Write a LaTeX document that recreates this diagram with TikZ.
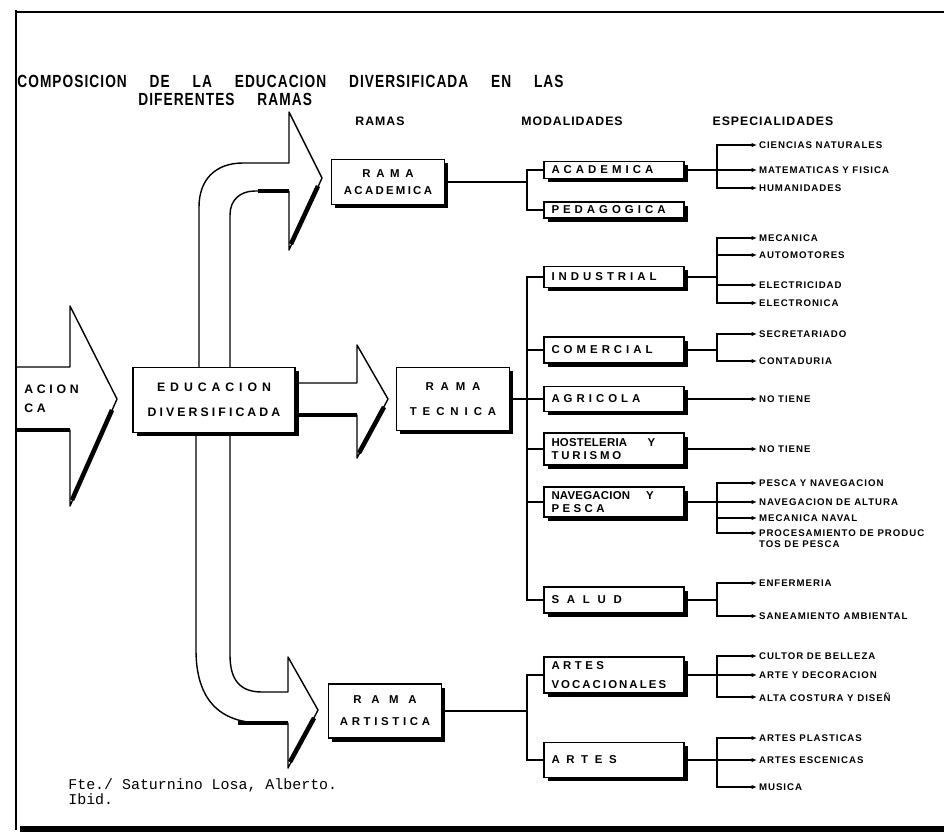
\documentclass[tikz,border=0pt]{standalone}
\usepackage{fontspec}
\setmainfont{Liberation Sans}
\newfontfamily\labfont{Liberation Sans}
\newfontfamily\titlefont[FakeStretch=0.78,LetterSpace=6]{Liberation Sans}
\newfontfamily\typefont{Liberation Mono}
\usepackage{tikz}
\usetikzlibrary{arrows.meta,shadows}

\newcommand\spc[2]{{\addfontfeature{LetterSpace=#1}#2}}

\begin{document}
\begin{tikzpicture}[x=0.02cm, y=-0.02cm,
		box/.style={draw, thick, fill=white, inner sep=0pt, align=center,
			drop shadow={shadow xshift=2pt, shadow yshift=-2pt, fill=black, opacity=1},
			font=\labfont\bfseries\fontsize{6.5}{9.5}\selectfont\addfontfeature{LetterSpace=35}},
		ramabox/.style={box, minimum width=2.26cm, minimum height=#1},
		modbox/.style={box, text width=2.5cm, inner xsep=0.15cm, align=left, minimum height=#1},
		head/.style={inner sep=1pt, font=\labfont\bfseries\fontsize{7}{8}\selectfont\addfontfeature{LetterSpace=8}},
		esp/.style={anchor=west, inner sep=1pt, font=\labfont\bfseries\fontsize{5.5}{6.5}\selectfont\addfontfeature{LetterSpace=10}},
		link/.style={semithick},
		tip/.style={semithick, -{Latex[length=3pt,width=2.4pt]}},
		bigarrow/.style={thick, fill=white, line join=round},
		heavy/.style={line width=2.6pt}]
		\useasboundingbox (0,0) rectangle (944,836);

		% titulo
		\node[anchor=west, inner sep=0pt, font=\titlefont\bfseries\fontsize{10}{11}\selectfont] (titulo) at (17,81)
			{\spaceskip=1.3em\relax COMPOSICION DE LA EDUCACION DIVERSIFICADA EN LAS};
		\node[anchor=west, inner sep=0pt, font=\titlefont\bfseries\fontsize{10}{11}\selectfont] (titulo2) at (138,99)
			{DIFERENTES\hspace{1.3em}RAMAS};
		\node[head] (h-ramas) at (380,121) {RAMAS};
		\node[head] (h-mod) at (572,121) {MODALIDADES};
		\node[head] (h-esp) at (773,121) {ESPECIALIDADES};

		% flechas grandes
		\draw[bigarrow] (16,367) -- (70,367) -- (70,306) -- (117,399) -- (70,506) -- (70,430) -- (16,430);
		\draw[heavy] (112,410) -- (72,500);
		\draw[heavy] (16,430) -- (70,430);
		\draw[bigarrow] (199,368) -- (199,207) .. controls (199,180) and (215,163) .. (243,163) -- (289,163) -- (289,112)
			-- (322,178) -- (289,250) -- (289,191) -- (255,191) .. controls (240,191) and (230,200) .. (230,215) -- (230,368);
		\draw[heavy] (318,186) -- (291,244);
		\draw[heavy] (258,191) -- (289,191);
		\draw[bigarrow] (295,383) -- (357,383) -- (357,345) -- (388,399) -- (357,458) -- (357,415) -- (295,415);
		\draw[heavy] (384,407) -- (359,453);
		\draw[heavy] (297,415) -- (357,415);
		\draw[bigarrow] (196,433) -- (196,650) .. controls (196,700) and (220,723) .. (262,723) -- (288,723) -- (288,768)
			-- (318,710) -- (288,657) -- (288,692) -- (262,692) .. controls (240,692) and (230,680) .. (230,655) -- (230,433);
		\draw[heavy] (314,718) -- (290,762);
		\draw[heavy] (238,723) -- (288,723);

		% marco
		\draw[line width=1.6pt] (16,10) -- (16,830);
		\draw[line width=0.9pt] (16,12) -- (944,12);
		\draw[line width=3pt] (20,829) -- (944,829);

		\node[anchor=west, inner sep=0pt, align=left, font=\labfont\bfseries\fontsize{7}{11}\selectfont] (entrada) at (24,399)
			{\spc{30}{ACION}\\\spc{30}{CA}};

		% educacion y ramas
		\node[box, minimum width=3.24cm, minimum height=1.3cm, font=\labfont\bfseries\fontsize{7}{9.5}\selectfont] (edu) at (214,400)
			{\spc{40}{EDUCACION}\\[4.5pt]\spc{25}{DIVERSIFICADA}};
		\node[ramabox=0.9cm] (rama-acad) at (388,182) {\spc{50}{RAMA}\\\spc{20}{ACADEMICA}};
		\node[ramabox=1.26cm] (rama-tec) at (453,399) {\spc{60}{RAMA}\\[5pt]\spc{52}{TECNICA}};
		\node[ramabox=1.08cm] (rama-art) at (385,711) {\spc{85}{RAMA}\\[3pt]\spc{32}{ARTISTICA}};

		% modalidades
		\node[modbox=0.34cm] (m-acad) at (614,170) {ACADEMICA};
		\node[modbox=0.32cm] (m-ped) at (614,210) {PEDAGOGICA};
		\node[modbox=0.42cm] (m-ind) at (614,277) {INDUSTRIAL};
		\node[modbox=0.52cm] (m-com) at (614,350) {COMERCIAL};
		\node[modbox=0.5cm] (m-agr) at (614,399) {AGRICOLA};
		\node[modbox=0.64cm] (m-host) at (614,449) {\spc{2}{HOSTELERIA}\hspace{1.8em}Y\\[-2.5pt]\spc{25}{TURISMO}};
		\node[modbox=0.6cm] (m-nav) at (614,502) {\spc{2}{NAVEGACION}\hspace{1.4em}Y\\[-2.5pt]\spc{30}{PESCA}};
		\node[modbox=0.52cm] (m-sal) at (614,600) {\spc{68}{SALUD}};
		\node[modbox=0.72cm] (m-voc) at (614,675) {\spc{30}{ARTES}\\[1pt]\spc{18}{VOCACIONALES}};
		\node[modbox=0.7cm] (m-artes) at (614,760) {\spc{58}{ARTES}};

		\coordinate (bus-acad) at (527,182);
		\coordinate (bus-tec) at (527,399);
		\coordinate (bus-art) at (527,711);
		\draw[link] (rama-acad.east) -- (bus-acad);
		\draw[link] (rama-tec.east) -- (bus-tec);
		\draw[link] (rama-art.east) -- (bus-art);
		\foreach \m in {m-acad,m-ped} \draw[link] (\m.west) -| (bus-acad);
		\foreach \m in {m-ind,m-com,m-agr,m-host,m-nav,m-sal} \draw[link] (\m.west) -| (bus-tec);
		\foreach \m in {m-voc,m-artes} \draw[link] (\m.west) -| (bus-art);

		% especialidades
		\node[esp] (e-cien) at (757,145) {CIENCIAS NATURALES};
		\node[esp] (e-mat) at (757,170) {MATEMATICAS Y FISICA};
		\node[esp] (e-hum) at (757,188) {HUMANIDADES};
		\node[esp] (e-mec) at (757,238) {MECANICA};
		\node[esp] (e-auto) at (757,255) {AUTOMOTORES};
		\node[esp] (e-elec) at (757,285) {ELECTRICIDAD};
		\node[esp] (e-elecn) at (757,303) {ELECTRONICA};
		\node[esp] (e-sec) at (757,334) {SECRETARIADO};
		\node[esp] (e-cont) at (757,361) {CONTADURIA};
		\node[esp] (e-agr) at (757,399) {NO TIENE};
		\node[esp] (e-host) at (757,449) {NO TIENE};
		\node[esp] (e-pesc) at (757,483) {PESCA Y NAVEGACION};
		\node[esp] (e-alt) at (757,502) {NAVEGACION DE ALTURA};
		\node[esp] (e-naval) at (757,518) {MECANICA NAVAL};
		\node[esp] (e-proc) at (757,533) {PROCESAMIENTO DE PRODUC};
		\node[esp, anchor=north west] (e-proc2) at (e-proc.south west) {TOS DE PESCA};
		\node[esp] (e-enf) at (757,583) {ENFERMERIA};
		\node[esp] (e-san) at (757,616) {SANEAMIENTO AMBIENTAL};
		\node[esp] (e-cult) at (757,656) {CULTOR DE BELLEZA};
		\node[esp] (e-deco) at (757,675) {ARTE Y DECORACION};
		\node[esp] (e-alta) at (757,697) {ALTA COSTURA Y DISEÑ};
		\node[esp] (e-plas) at (757,738) {ARTES PLASTICAS};
		\node[esp] (e-esc) at (757,760) {ARTES ESCENICAS};
		\node[esp] (e-mus) at (757,787) {MUSICA};

		\coordinate (sp-acad) at (717,170);
		\coordinate (sp-ind) at (717,277);
		\coordinate (sp-com) at (717,350);
		\coordinate (sp-nav) at (717,502);
		\coordinate (sp-sal) at (717,600);
		\coordinate (sp-voc) at (717,675);
		\coordinate (sp-artes) at (717,760);
		\foreach \m/\s in {m-acad/sp-acad,m-ind/sp-ind,m-com/sp-com,m-nav/sp-nav,m-sal/sp-sal,m-voc/sp-voc,m-artes/sp-artes}
			\draw[link] (\m.east) -- (\s);
		\foreach \e in {e-cien,e-mat,e-hum} \draw[tip] (sp-acad) |- (\e.west);
		\foreach \e in {e-mec,e-auto,e-elec,e-elecn} \draw[tip] (sp-ind) |- (\e.west);
		\foreach \e in {e-sec,e-cont} \draw[tip] (sp-com) |- (\e.west);
		\draw[tip] (m-agr.east) -- (e-agr.west);
		\draw[tip] (m-host.east) -- (e-host.west);
		\foreach \e in {e-pesc,e-alt,e-naval,e-proc} \draw[tip] (sp-nav) |- (\e.west);
		\foreach \e in {e-enf,e-san} \draw[tip] (sp-sal) |- (\e.west);
		\foreach \e in {e-cult,e-deco,e-alta} \draw[tip] (sp-voc) |- (\e.west);
		\foreach \e in {e-plas,e-esc,e-mus} \draw[tip] (sp-artes) |- (\e.west);

		% fuente
		\node[anchor=west, inner sep=0pt, align=left, font=\typefont\fontsize{8.5}{6.5}\selectfont] (fuente) at (68,792)
			{Fte./ Saturnino Losa, Alberto.\\Ibid.};
	\end{tikzpicture}
\end{document}
